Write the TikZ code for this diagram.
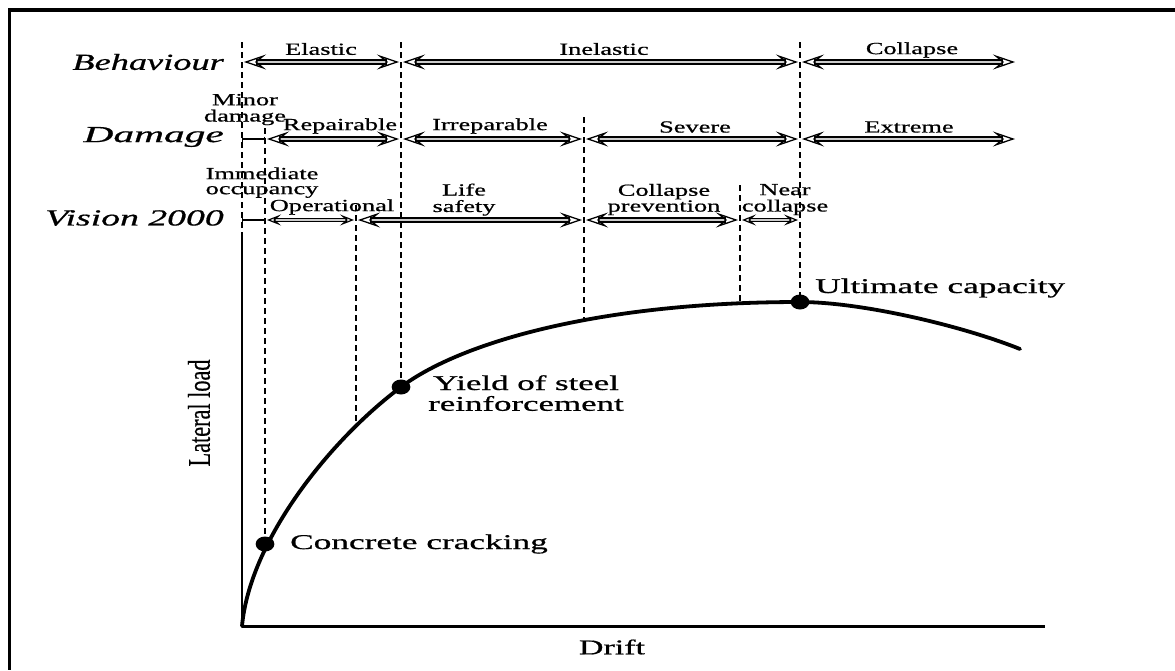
\documentclass[tikz,border=0pt]{standalone}
\usepackage{fontspec}
\usepackage{graphicx}
\setmainfont{Liberation Serif}[FakeBold=0.6]
\usetikzlibrary{arrows.meta}
\newcommand\wide[2]{\scalebox{#1}[1]{#2}}
\newcommand\twol[2]{\begin{tabular}{@{}c@{}}#1\\#2\end{tabular}}
\begin{document}
\begin{tikzpicture}[x=1pt,y=-1pt,
  divider/.style={dash pattern=on 6pt off 4pt, line width=1.2pt},
  band/.style={draw=black, line width=1.3pt, double=gray!40, double distance=2.6pt,
    {Stealth[open,length=22pt,width=15pt,inset=9pt,line width=1.3pt]}-{Stealth[open,length=22pt,width=15pt,inset=9pt,line width=1.3pt]},
    shorten <=2pt, shorten >=2pt},
  sband/.style={draw=black, line width=1.2pt, double=gray!40, double distance=2.2pt,
    {Stealth[open,length=14pt,width=11pt,inset=6pt,line width=1.2pt]}-{Stealth[open,length=14pt,width=11pt,inset=6pt,line width=1.2pt]},
    shorten <=2pt, shorten >=2pt},
  tiny/.style={line width=1.3pt, {Bar[width=5pt]}-{Bar[width=5pt]}},
  lbl/.style={font=\fontsize{17}{15}\selectfont, inner sep=0pt, align=center},
  rowlbl/.style={font=\fontsize{23}{26}\selectfont\itshape, anchor=east, inner sep=0pt},
  crv/.style={font=\fontsize{21}{20}\selectfont, inner sep=0pt},
  dotn/.style={circle, fill=black, inner sep=0pt, minimum size=15pt, xscale=1.25},
  curve/.style={line width=3.8pt, line cap=round, line join=round}]
\useasboundingbox (0,0) rectangle (1175,670);
% frame
\coordinate (fr1) at (1175,10);
\coordinate (fr2) at (9.5,10);
\coordinate (fr3) at (9.5,670);
\draw[line width=3.5pt] (fr1) -- (fr2) -- (fr3);
% axes
\coordinate (ax) at (242,232);
\coordinate (O) at (242,626);
\coordinate (xend) at (1045,626);
\draw[line width=2pt] (ax) -- (O);
\draw[line width=3pt] (O) -- (xend);
\node[crv] (drift) at (612,647) {\wide{1.62}{Drift}};
\node[crv, rotate=90] (lat) at (199,413) {\scalebox{1.06}[1.5]{Lateral load}};
% points
\coordinate (ypt) at (401,387);
\coordinate (upt) at (800,302);
\coordinate (cend) at (1020,349);
% curve
\draw[curve] (O) .. controls (250,540) and (330,440) .. (ypt)
  .. controls (461,342) and (600,302) .. (upt)
  .. controls (860,302) and (960,325) .. (cend);
\node[dotn] (crack) at (265,544) {};
\node[dotn] (yield) at (ypt) {};
\node[dotn] (ult) at (upt) {};
\coordinate (c3) at (356,428);
\coordinate (c5) at (584,321);
\coordinate (c6) at (740,304);
\node[crv, anchor=west] (lcrack) at (290,544) {\wide{1.68}{Concrete cracking}};
\node[crv, align=center] (lyield) at (526,396) {\wide{1.66}{\twol{Yield of steel}{reinforcement}}};
\node[crv, anchor=west] (lult) at (815,288) {\wide{1.68}{Ultimate capacity}};
% divider tops
\coordinate (t1) at (242,42);
\coordinate (t2) at (265,128);
\coordinate (t3) at (356,205);
\coordinate (t4) at (401,42);
\coordinate (t5) at (584,117);
\coordinate (t6) at (740,185);
\coordinate (t7) at (800,42);
\draw[divider] (t1) -- (ax);
\draw[divider] (t2) -- (crack.center);
\draw[divider] (t3) -- (c3);
\draw[divider] (t4) -- (yield.center);
\draw[divider] (t5) -- (c5);
\draw[divider] (t6) -- (c6);
\draw[divider] (t7) -- (ult.center);
% row coordinates
\coordinate (B0) at (242,62);  \coordinate (B1) at (401,62);
\coordinate (B2) at (800,62);  \coordinate (B3) at (1017,62);
\coordinate (D0) at (242,139); \coordinate (D1) at (265,139);
\coordinate (D2) at (401,139); \coordinate (D3) at (584,139);
\coordinate (D4) at (800,139); \coordinate (D5) at (1017,139);
\coordinate (V0) at (242,220); \coordinate (V1) at (265,220);
\coordinate (V2) at (356,220); \coordinate (V3) at (584,220);
\coordinate (V4) at (740,220); \coordinate (V5) at (800,220);
% row labels
\node[rowlbl] (rb) at (224,62) {\wide{1.58}{Behaviour}};
\node[rowlbl] (rd) at (224,137) {\wide{1.8}{Damage}};
\node[rowlbl] (rv) at (224,218) {\wide{1.64}{Vision 2000}};
% behaviour bands
\draw[band] (B0) -- (B1);
\draw[band] (B1) -- (B2);
\draw[band] (B2) -- (B3);
\node[lbl] (elastic) at (321,49) {\wide{1.55}{Elastic}};
\node[lbl] (inelastic) at (604,49) {\wide{1.55}{Inelastic}};
\node[lbl] (collapse) at (912,50) {\wide{1.55}{Collapse}};
% damage bands
\draw[tiny] (D0) -- (D1);
\draw[band] (D1) -- (D2);
\draw[band] (D2) -- (D3);
\draw[band] (D3) -- (D4);
\draw[band] (D4) -- (D5);
\node[lbl] (minor) at (245,110) {\wide{1.55}{\twol{Minor}{damage}}};
\node[lbl] (repair) at (340,126) {\wide{1.55}{Repairable}};
\node[lbl] (irrep) at (490,126) {\wide{1.55}{Irreparable}};
\node[lbl] (severe) at (695,127) {\wide{1.55}{Severe}};
\node[lbl] (extreme) at (909,127) {\wide{1.55}{Extreme}};
% vision bands
\draw[tiny] (V0) -- (V1);
\draw[sband] (V1) -- (V2);
\draw[band] (V2) -- (V3);
\draw[band] (V3) -- (V4);
\draw[sband] (V4) -- (V5);
\node[lbl] (immed) at (262,183) {\wide{1.55}{\twol{Immediate}{occupancy}}};
\node[lbl] (oper) at (332,207) {\wide{1.55}{Operational}};
\node[lbl] (life) at (464,200) {\wide{1.55}{\twol{Life}{safety}}};
\node[lbl] (cprev) at (664,200) {\wide{1.55}{\twol{Collapse}{prevention}}};
\node[lbl] (near) at (785,200) {\wide{1.55}{\twol{Near}{collapse}}};
\end{tikzpicture}
\end{document}
